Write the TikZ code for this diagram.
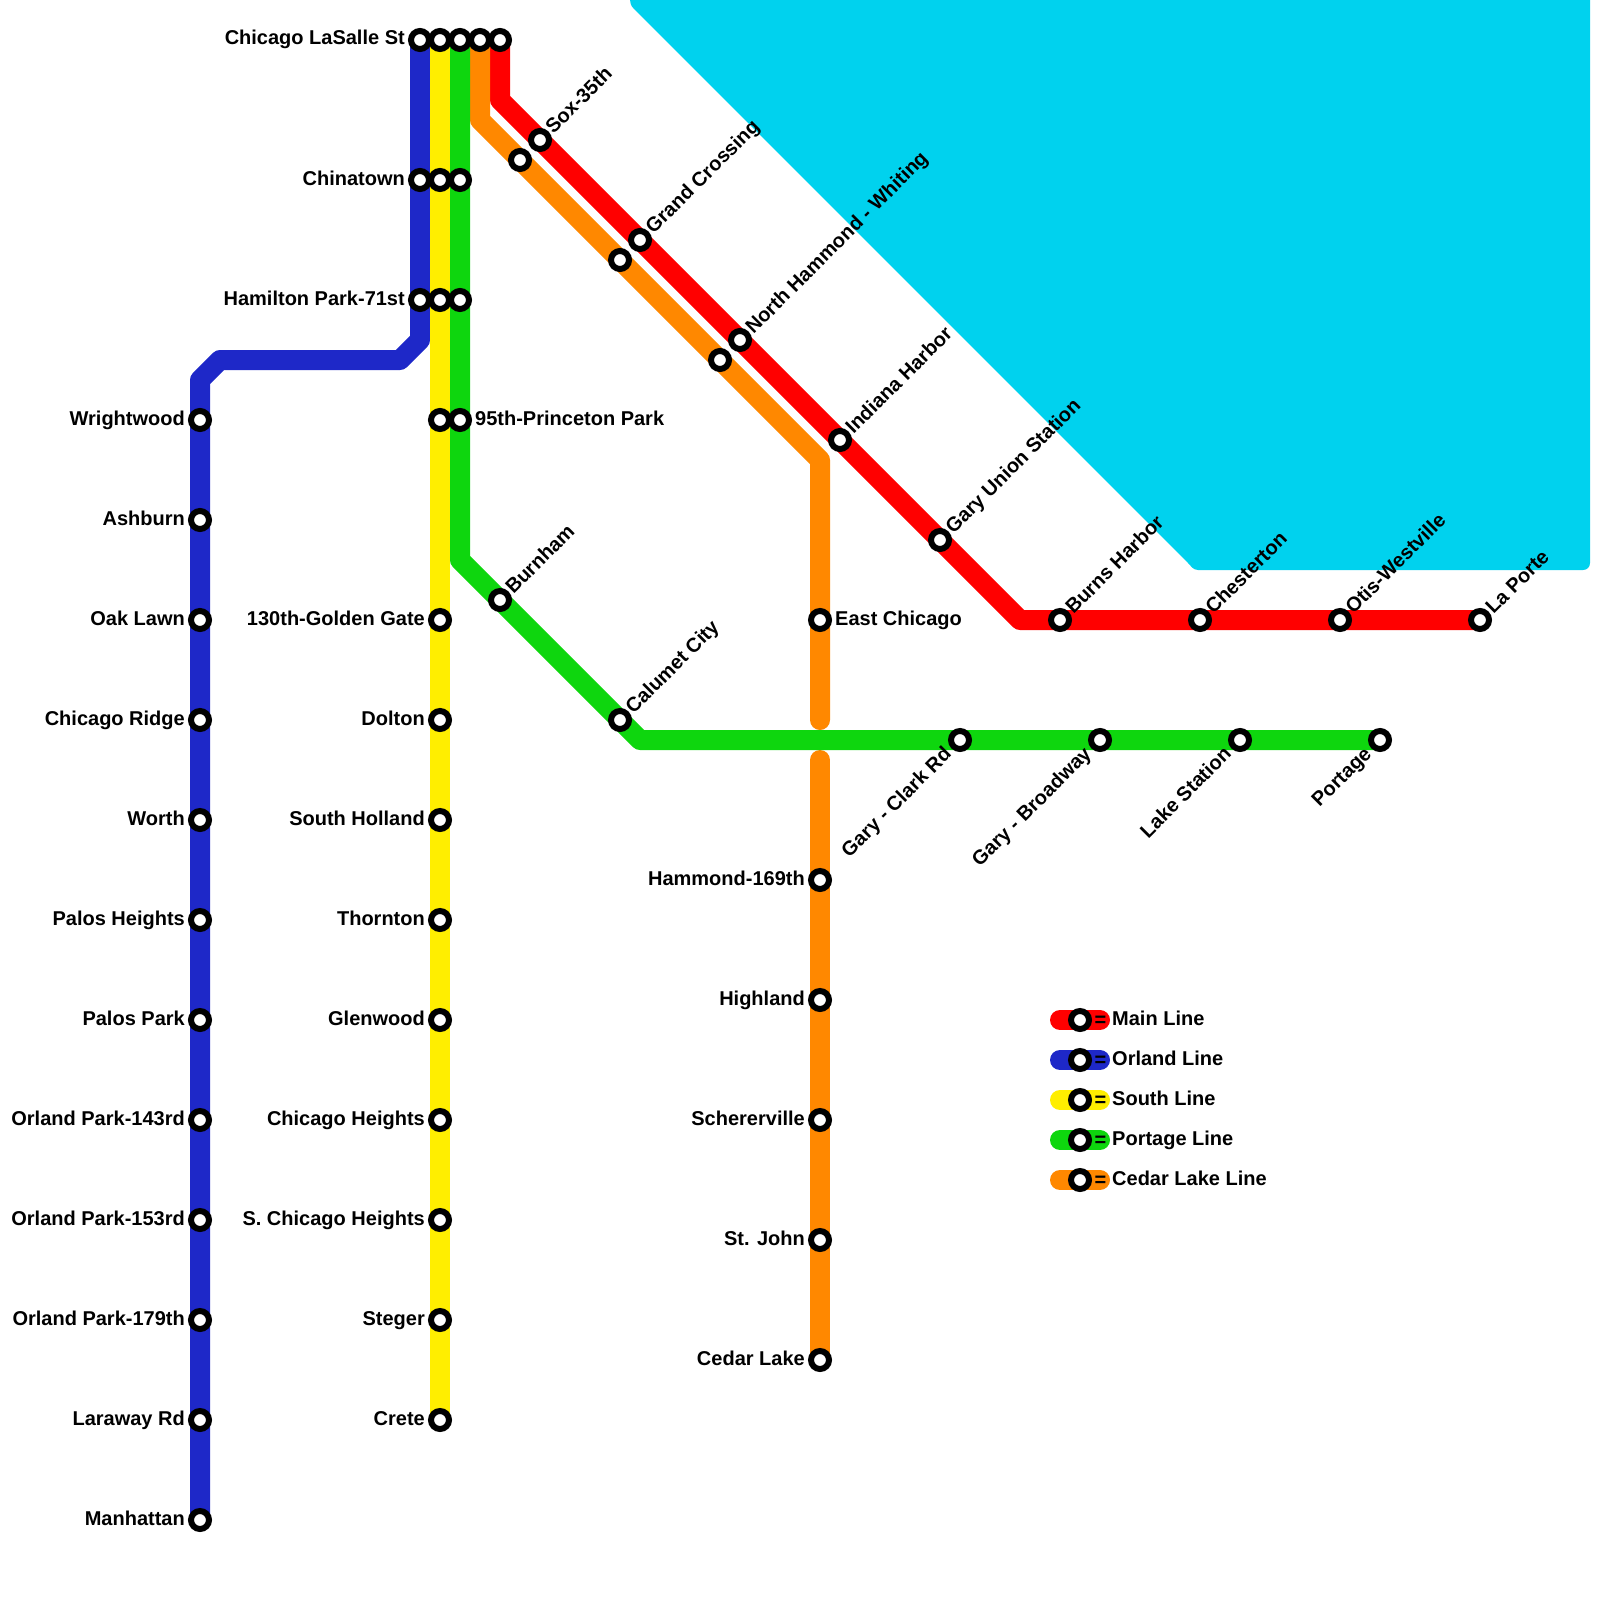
\documentclass[tikz,border=0pt]{standalone}
\usepackage{fontspec}
\setmainfont{Liberation Sans}
\definecolor{cred}{RGB}{255,0,0}
\definecolor{cblue}{RGB}{30,40,200}
\definecolor{cyellow}{RGB}{255,238,0}
\definecolor{cgreen}{RGB}{14,214,14}
\definecolor{corange}{RGB}{255,136,0}
\definecolor{cwater}{RGB}{0,210,238}
\tikzset{
  metro/.style={line width=20pt,line cap=round,line join=round},
  st/.style={circle,draw=black,fill=white,line width=6pt,minimum size=18pt,inner sep=0pt,outer sep=0pt},
  lbl/.style={font=\bfseries\fontsize{20}{22}\selectfont,inner sep=0pt,text=black},
  lleft/.style={lbl,anchor=base east},
  lright/.style={lbl,anchor=base west},
  lup/.style={lbl,anchor=base west,rotate=45},
  ldown/.style={lbl,anchor=base east,rotate=45},
}
\newcommand{\stn}[3]{\node[st] (#1) at (#2,#3) {};}
\newcommand{\lft}[4]{\node[lleft] (l#1) at (#2-15,#3+5) {#4};}
\newcommand{\rgt}[4]{\node[lright] (l#1) at (#2+15,#3+5) {#4};}
\newcommand{\upl}[4]{\node[lup] (l#1) at (#2+13.5,#3-5) {#4};}
\newcommand{\dwn}[4]{\node[ldown] (l#1) at (#2-7.5,#3+15) {#4};}
\begin{document}
\begin{tikzpicture}[x=1pt,y=-1pt]
\useasboundingbox (0,0) rectangle (1600,1600);
% water
\fill[cwater] (630,0) .. controls (630,3) and (631,6) .. (634,9) -- (1188,563) .. controls (1191,566) and (1193,570) .. (1198,570) -- (1583,570) .. controls (1587,570) and (1590,567) .. (1590,563) -- (1590,0) -- cycle;
% way-points
\coordinate (b1) at (420,340); \coordinate (b2) at (400,360); \coordinate (b3) at (220,360); \coordinate (b4) at (200,380);
\coordinate (g1) at (460,560); \coordinate (g2) at (640,740);
\coordinate (o1) at (480,120); \coordinate (o2) at (820,460); \coordinate (o3) at (820,720); \coordinate (o4) at (820,760);
\coordinate (r1) at (500,100); \coordinate (r2) at (1020,620);
\coordinate (ba0) at (420,40); \coordinate (ba1) at (200,1520);
\coordinate (ya0) at (440,40); \coordinate (ya1) at (440,1420);
\coordinate (ga0) at (460,40); \coordinate (ga1) at (1380,740);
\coordinate (oa0) at (480,40); \coordinate (oa1) at (820,1360);
\coordinate (ra0) at (500,40); \coordinate (ra1) at (1480,620);
% lines
\draw[metro,cred] (ra0) -- (r1) -- (r2) -- (ra1);
\draw[metro,corange] (oa0) -- (o1) -- (o2) -- (o3);
\draw[metro,corange] (o4) -- (oa1);
\draw[metro,cblue] (ba0) -- (b1) -- (b2) -- (b3) -- (b4) -- (ba1);
\draw[metro,cyellow] (ya0) -- (ya1);
\draw[metro,cgreen] (ga0) -- (g1) -- (g2) -- (ga1);
% stations
\stn{a1}{420}{40}\stn{a2}{440}{40}\stn{a3}{460}{40}\stn{a4}{480}{40}\stn{a5}{500}{40}
\stn{c1}{420}{180}\stn{c2}{440}{180}\stn{c3}{460}{180}
\stn{h1}{420}{300}\stn{h2}{440}{300}\stn{h3}{460}{300}
\stn{p2}{440}{420}\stn{p3}{460}{420}
\lft{a}{420}{40}{Chicago LaSalle St}
\lft{c}{420}{180}{Chinatown}
\lft{h}{420}{300}{Hamilton Park-71st}
\rgt{p}{460}{420}{95th-Princeton Park}
% Orland
\stn{o01}{200}{420}\lft{o01}{200}{420}{Wrightwood}
\stn{o02}{200}{520}\lft{o02}{200}{520}{Ashburn}
\stn{o03}{200}{620}\lft{o03}{200}{620}{Oak Lawn}
\stn{o04}{200}{720}\lft{o04}{200}{720}{Chicago Ridge}
\stn{o05}{200}{820}\lft{o05}{200}{820}{Worth}
\stn{o06}{200}{920}\lft{o06}{200}{920}{Palos Heights}
\stn{o07}{200}{1020}\lft{o07}{200}{1020}{Palos Park}
\stn{o08}{200}{1120}\lft{o08}{200}{1120}{Orland Park-143rd}
\stn{o09}{200}{1220}\lft{o09}{200}{1220}{Orland Park-153rd}
\stn{o10}{200}{1320}\lft{o10}{200}{1320}{Orland Park-179th}
\stn{o11}{200}{1420}\lft{o11}{200}{1420}{Laraway Rd}
\stn{o12}{200}{1520}\lft{o12}{200}{1520}{Manhattan}
% South
\stn{s1}{440}{620}\lft{s1}{440}{620}{130th-Golden Gate}
\stn{s2}{440}{720}\lft{s2}{440}{720}{Dolton}
\stn{s3}{440}{820}\lft{s3}{440}{820}{South Holland}
\stn{s4}{440}{920}\lft{s4}{440}{920}{Thornton}
\stn{s5}{440}{1020}\lft{s5}{440}{1020}{Glenwood}
\stn{s6}{440}{1120}\lft{s6}{440}{1120}{Chicago Heights}
\stn{s7}{440}{1220}\lft{s7}{440}{1220}{S. Chicago Heights}
\stn{s8}{440}{1320}\lft{s8}{440}{1320}{Steger}
\stn{s9}{440}{1420}\lft{s9}{440}{1420}{Crete}
% Portage
\stn{g01}{500}{600}\upl{g01}{500}{600}{Burnham}
\stn{g02}{620}{720}\upl{g02}{620}{720}{Calumet City}
\stn{g03}{960}{740}\dwn{g03}{960}{740}{Gary - Clark Rd}
\stn{g04}{1100}{740}\dwn{g04}{1100}{740}{Gary - Broadway}
\stn{g05}{1240}{740}\dwn{g05}{1240}{740}{Lake Station}
\stn{g06}{1380}{740}\dwn{g06}{1380}{740}{Portage}
% Cedar Lake
\stn{k1}{520}{160}\stn{k2}{620}{260}\stn{k3}{720}{360}
\stn{k4}{820}{620}\rgt{k4}{820}{620}{East Chicago}
\stn{k5}{820}{880}\lft{k5}{820}{880}{Hammond-169th}
\stn{k6}{820}{1000}\lft{k6}{820}{1000}{Highland}
\stn{k7}{820}{1120}\lft{k7}{820}{1120}{Schererville}
\stn{k8}{820}{1240}\lft{k8}{820}{1240}{St. John}
\stn{k9}{820}{1360}\lft{k9}{820}{1360}{Cedar Lake}
% Main
\stn{m1}{540}{140}\upl{m1}{540}{140}{Sox-35th}
\stn{m2}{640}{240}\upl{m2}{640}{240}{Grand Crossing}
\stn{m3}{740}{340}\upl{m3}{740}{340}{North Hammond - Whiting}
\stn{m4}{840}{440}\upl{m4}{840}{440}{Indiana Harbor}
\stn{m5}{940}{540}\upl{m5}{940}{540}{Gary Union Station}
\stn{m6}{1060}{620}\upl{m6}{1060}{620}{Burns Harbor}
\stn{m7}{1200}{620}\upl{m7}{1200}{620}{Chesterton}
\stn{m8}{1340}{620}\upl{m8}{1340}{620}{Otis-Westville}
\stn{m9}{1480}{620}\upl{m9}{1480}{620}{La Porte}
% Legend
\newcommand{\leg}[4]{%
  \coordinate (la#1) at (1060,#2); \coordinate (lb#1) at (1100,#2);
  \draw[metro,#3] (la#1) -- (lb#1);
  \node[st] (ls#1) at (1080,#2) {};
  \node[lbl,anchor=base] (le#1) at (1100.5,#2+6.5) {=};
  \node[lbl,anchor=base west] (lt#1) at (1112,#2+5) {#4};}
\leg{1}{1020}{cred}{Main Line}
\leg{2}{1060}{cblue}{Orland Line}
\leg{3}{1100}{cyellow}{South Line}
\leg{4}{1140}{cgreen}{Portage Line}
\leg{5}{1180}{corange}{Cedar Lake Line}
\end{tikzpicture}
\end{document}
